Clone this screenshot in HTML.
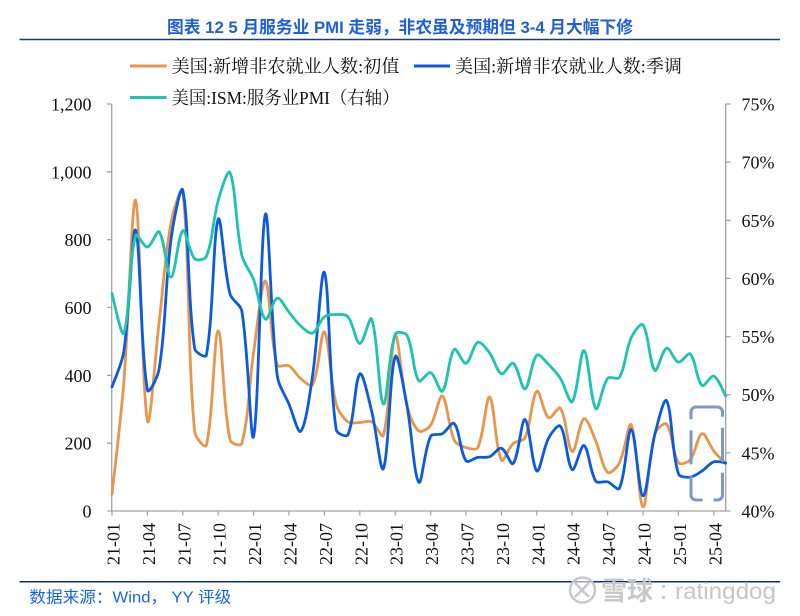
<!DOCTYPE html>
<html>
<head>
<meta charset="utf-8">
<style>
html,body{margin:0;padding:0;background:#ffffff;}
svg{display:block;}
.ax{font-family:"Liberation Serif","Noto Serif CJK SC",serif;font-size:18px;fill:#111111;}
.lg{font-family:"Liberation Serif","Noto Serif CJK SC",serif;font-size:18px;fill:#111111;}
</style>
</head>
<body>
<svg width="800" height="616" viewBox="0 0 800 616" xmlns="http://www.w3.org/2000/svg">
  <rect x="0" y="0" width="800" height="616" fill="#ffffff"/>

  <!-- Title -->
  <text x="400" y="33.2" text-anchor="middle" font-family="'Liberation Sans','Noto Sans CJK SC',sans-serif" font-weight="bold" font-size="16.8" fill="#1f5fd8" textLength="466" lengthAdjust="spacingAndGlyphs">图表 12 5 月服务业 PMI 走弱，非农虽及预期但 3-4 月大幅下修</text>
  <line x1="19.5" y1="39.5" x2="780" y2="39.5" stroke="#1f3a6e" stroke-width="1.5"/>

  <!-- Legend -->
  <line x1="130" y1="66" x2="166.7" y2="66" stroke="#e8964b" stroke-width="3"/>
  <text class="lg" x="171.5" y="72.5" textLength="228" lengthAdjust="spacingAndGlyphs">美国:新增非农就业人数:初值</text>
  <line x1="414" y1="66" x2="450" y2="66" stroke="#0b5be0" stroke-width="3"/>
  <text class="lg" x="455" y="72.5" textLength="227" lengthAdjust="spacingAndGlyphs">美国:新增非农就业人数:季调</text>
  <line x1="130" y1="97.5" x2="166.7" y2="97.5" stroke="#1ec4ae" stroke-width="3"/>
  <text class="lg" x="171.5" y="104" textLength="228" lengthAdjust="spacingAndGlyphs">美国:ISM:服务业PMI（右轴）</text>

  <!-- Axes -->
  <g stroke="#a3a3a3" stroke-width="1.3" fill="none">
    <line x1="111.7" y1="104" x2="111.7" y2="511"/>
    <line x1="725.7" y1="104" x2="725.7" y2="511"/>
    <line x1="111.7" y1="511" x2="725.7" y2="511"/>
    <path d="M107,511H111.7 M107,443.2H111.7 M107,375.3H111.7 M107,307.5H111.7 M107,239.7H111.7 M107,171.8H111.7 M107,104H111.7"/>
    <path d="M725.7,511H730.5 M725.7,452.9H730.5 M725.7,394.7H730.5 M725.7,336.6H730.5 M725.7,278.4H730.5 M725.7,220.3H730.5 M725.7,162.1H730.5 M725.7,104H730.5"/>
    <path d="M112,511V515.5 M147.4,511V515.5 M182.8,511V515.5 M218.2,511V515.5 M253.6,511V515.5 M289,511V515.5 M324.4,511V515.5 M359.8,511V515.5 M395.2,511V515.5 M430.6,511V515.5 M466,511V515.5 M501.4,511V515.5 M536.8,511V515.5 M572.2,511V515.5 M607.6,511V515.5 M643,511V515.5 M678.4,511V515.5 M713.8,511V515.5"/>
  </g>

  <!-- Left axis labels -->
  <g class="ax" text-anchor="end">
    <text x="91.5" y="517.5">0</text>
    <text x="91.5" y="449.7">200</text>
    <text x="91.5" y="381.8">400</text>
    <text x="91.5" y="314">600</text>
    <text x="91.5" y="246.2">800</text>
    <text x="91.5" y="178.3">1,000</text>
    <text x="91.5" y="110.5">1,200</text>
  </g>
  <!-- Right axis labels -->
  <g class="ax">
    <text x="741.5" y="517.5">40%</text>
    <text x="741.5" y="459.4">45%</text>
    <text x="741.5" y="401.2">50%</text>
    <text x="741.5" y="343.1">55%</text>
    <text x="741.5" y="284.9">60%</text>
    <text x="741.5" y="226.8">65%</text>
    <text x="741.5" y="168.6">70%</text>
    <text x="741.5" y="110.5">75%</text>
  </g>
  <!-- X labels -->
  <g class="ax" text-anchor="end">
    <text transform="translate(119.5,523) rotate(-90)">21-01</text>
    <text transform="translate(154.9,523) rotate(-90)">21-04</text>
    <text transform="translate(190.3,523) rotate(-90)">21-07</text>
    <text transform="translate(225.7,523) rotate(-90)">21-10</text>
    <text transform="translate(261.1,523) rotate(-90)">22-01</text>
    <text transform="translate(296.5,523) rotate(-90)">22-04</text>
    <text transform="translate(331.9,523) rotate(-90)">22-07</text>
    <text transform="translate(367.3,523) rotate(-90)">22-10</text>
    <text transform="translate(402.7,523) rotate(-90)">23-01</text>
    <text transform="translate(438.1,523) rotate(-90)">23-04</text>
    <text transform="translate(473.5,523) rotate(-90)">23-07</text>
    <text transform="translate(508.9,523) rotate(-90)">23-10</text>
    <text transform="translate(544.3,523) rotate(-90)">24-01</text>
    <text transform="translate(579.7,523) rotate(-90)">24-04</text>
    <text transform="translate(615.1,523) rotate(-90)">24-07</text>
    <text transform="translate(650.5,523) rotate(-90)">24-10</text>
    <text transform="translate(685.9,523) rotate(-90)">25-01</text>
    <text transform="translate(721.3,523) rotate(-90)">25-04</text>
  </g>

  <!-- Series: orange (initial) -->
  <g class="sg" transform="translate(112,511) scale(11.8,-0.339167)">
    <polyline class="s l" fill="none" stroke="#e8964b" stroke-width="2.8" stroke-linejoin="round" stroke-linecap="round" vector-effect="non-scaling-stroke"
      points="0,49 1,379 2,916 3,266 4,559 5,850 6,943 7,235 8,194 9,531 10,210 11,199 12,467 13,678 14,431 15,428 16,390 17,372 18,528 19,315 20,263 21,261 22,263 23,223 24,517 25,311 26,236 27,253 28,339 29,209 30,187 31,187 32,336 33,150 34,199 35,216 36,353 37,275 38,303 39,175 40,272 41,206 42,114 43,142 44,254 45,12 46,227 47,256 48,143 49,151 50,228 51,177 52,139"/>
  </g>
  <!-- Series: blue (revised) -->
  <g class="sg" transform="translate(112,511) scale(11.8,-0.339167)">
    <polyline class="s l" fill="none" stroke="#0b5be0" stroke-width="2.8" stroke-linejoin="round" stroke-linecap="round" vector-effect="non-scaling-stroke"
      points="0,366 1,470 2,828 3,357 4,420 5,800 6,945 7,480 8,460 9,860 10,640 11,590 12,220 13,875 14,400 15,315 16,235 17,400 18,703 19,240 20,225 21,404 22,295 23,125 24,455 25,310 26,85 27,220 28,228 29,258 30,148 31,158 32,160 33,185 34,140 35,270 36,118 37,215 38,250 39,122 40,193 41,88 42,86 43,67 44,240 45,45 46,225 47,325 48,110 49,100 50,118 51,145 52,142"/>
  </g>
  <!-- Series: teal (ISM services PMI, right axis) -->
  <g class="sg" transform="translate(112,511) scale(11.8,-11.628571) translate(0,-40)">
    <polyline class="s r" fill="none" stroke="#1ec4ae" stroke-width="2.8" stroke-linejoin="round" stroke-linecap="round" vector-effect="non-scaling-stroke"
      points="0,58.7 1,55.3 2,63.7 3,62.7 4,64.0 5,60.1 6,64.1 7,61.7 8,61.9 9,66.7 10,69.1 11,62.0 12,59.9 13,56.5 14,58.3 15,57.1 16,55.9 17,55.3 18,56.7 19,56.9 20,56.7 21,54.4 22,56.5 23,49.2 24,55.2 25,55.1 26,51.2 27,51.9 28,50.3 29,53.9 30,52.7 31,54.5 32,53.6 33,51.8 34,52.7 35,50.5 36,53.4 37,52.6 38,51.4 39,49.4 40,53.8 41,48.8 42,51.4 43,51.5 44,54.9 45,56.0 46,52.1 47,54.0 48,52.8 49,53.5 50,50.8 51,51.6 52,49.9"/>
  </g>

  <!-- Dashed highlight box -->
  <rect x="691" y="407" width="31.5" height="93" rx="5" ry="5" fill="none" stroke="#7d96cd" stroke-width="3" stroke-dasharray="34 11"/>

  <!-- Footer -->
  <line x1="19.5" y1="581.7" x2="780" y2="581.7" stroke="#0d2c6c" stroke-width="1.5"/>
  <text x="29.3" y="602.6" font-family="'Liberation Sans','Noto Sans CJK SC',sans-serif" font-size="16" fill="#1765de" textLength="202" lengthAdjust="spacingAndGlyphs">数据来源：Wind， YY 评级</text>

  <!-- Watermark -->
  <g opacity="0.95">
    <circle cx="582.5" cy="590" r="12.5" fill="#ffffff" fill-opacity="0.6" stroke="#c6c6c6" stroke-width="2.5"/>
    <path d="M575,583 Q582,590 589,597 M589,583 Q582,590 575,597" stroke="#c6c6c6" stroke-width="2.5" fill="none"/>
    <text x="601" y="600" font-family="'Noto Sans CJK SC',sans-serif" font-weight="bold" font-size="26" fill="#c6c6c6">雪球</text>
    <text x="658" y="599" font-family="'Noto Sans CJK SC',sans-serif" font-size="22" fill="#c6c6c6">：</text>
    <text x="675" y="599" font-family="'Liberation Sans',sans-serif" font-size="23.5" fill="#c4c4c4" textLength="101" lengthAdjust="spacingAndGlyphs">ratingdog</text>
  </g>
</svg>
<script>
(function(){
  var X0=112, DX=11.8;
  function yl(v){return 511-v*0.339167;}
  function yr(p){return 511-(p-40)*11.628571;}
  function f(n){return n.toFixed(2);}
  function smooth(P){
    var n=P.length, d=[], cin=[], cout=[], i;
    for(i=0;i<n-1;i++){d[i]=Math.sqrt(Math.pow(P[i+1][0]-P[i][0],2)+Math.pow(P[i+1][1]-P[i][1],2))||1e-6;}
    for(i=0;i<n;i++){
      if(i===0){
        cout[0]=[P[0][0]+(P[1][0]-P[0][0])/6, P[0][1]+(P[1][1]-P[0][1])/6];
      } else if(i===n-1){
        cin[i]=[P[i][0]-(P[i][0]-P[i-1][0])/6, P[i][1]-(P[i][1]-P[i-1][1])/6];
      } else {
        var tx=P[i+1][0]-P[i-1][0], ty=P[i+1][1]-P[i-1][1];
        var s=d[i-1]+d[i];
        var a=d[i-1]/s/3, b=d[i]/s/3;
        cin[i]=[P[i][0]-tx*a, P[i][1]-ty*a];
        cout[i]=[P[i][0]+tx*b, P[i][1]+ty*b];
      }
    }
    var str='M'+f(P[0][0])+','+f(P[0][1]);
    for(i=0;i<n-1;i++){
      str+=' C'+f(cout[i][0])+','+f(cout[i][1])+' '+f(cin[i+1][0])+','+f(cin[i+1][1])+' '+f(P[i+1][0])+','+f(P[i+1][1]);
    }
    return str;
  }
  var pls=document.querySelectorAll('polyline.s');
  for(var k=0;k<pls.length;k++){
    var pl=pls[k];
    var sc=pl.classList.contains('r')?yr:yl;
    var raw=pl.getAttribute('points').trim().split(/\s+/).map(function(s){return s.split(',').map(Number);});
    var P=raw.map(function(q){return [X0+q[0]*DX, sc(q[1])];});
    var p=document.createElementNS('http://www.w3.org/2000/svg','path');
    p.setAttribute('d',smooth(P));
    p.setAttribute('fill','none');
    p.setAttribute('stroke',pl.getAttribute('stroke'));
    p.setAttribute('stroke-width','2.8');
    p.setAttribute('stroke-linejoin','round');
    p.setAttribute('stroke-linecap','round');
    var g=pl.parentNode;
    g.parentNode.replaceChild(p,g);
  }
})();
</script>
</body>
</html>
